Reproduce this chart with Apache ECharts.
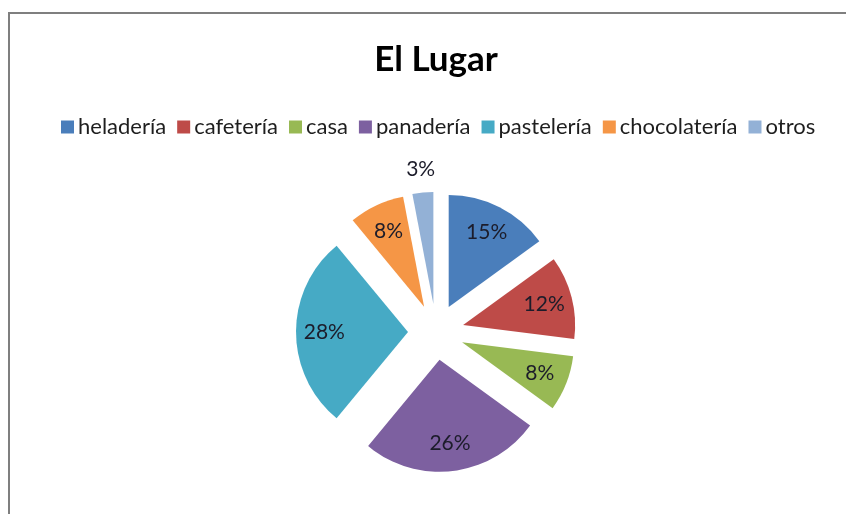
<!DOCTYPE html>
<html>
<head>
<meta charset="utf-8">
<script src="https://cdn.jsdelivr.net/npm/echarts@6/dist/echarts.min.js"></script>
<style>
  html, body { margin: 0; padding: 0; background: #fff; }
  #chart { width: 846px; height: 514px; }
</style>
</head>
<body>
<div id="chart"></div>
<script>
// Where people prefer to go: share of answers per place
const categories = ['heladería', 'cafetería', 'casa', 'panadería', 'pastelería', 'chocolatería', 'otros'];
const shares = [15, 12, 8, 26, 28, 8, 3];
const sliceColors = ['#4A7EBB', '#BE4B48', '#98B954', '#7D60A0', '#46AAC5', '#F59646', '#93B1D6'];
// slices whose label sits outside the pie
const outsideLabels = ['otros'];

const chart = echarts.init(document.getElementById('chart'), null, { renderer: 'canvas' });

const center = [436, 332];
const radius = 112;
const explode = 28;
const font = 'Lato, "Open Sans", sans-serif';

function items(labelFor) {
  return categories.map((name, i) => ({
    name,
    value: shares[i],
    selected: true,
    itemStyle: { color: sliceColors[i] },
    label: labelFor(name)
  }));
}

const baseSeries = {
  type: 'pie',
  center,
  startAngle: 90,
  clockwise: true,
  selectedMode: 'multiple',
  selectedOffset: explode,
  avoidLabelOverlap: false,
  animation: false,
  silent: true,
  labelLine: { show: false },
  emphasis: { disabled: true }
};

const labelStyle = {
  position: 'inside',
  formatter: '{c}%',
  color: '#1c1c2a',
  fontFamily: font,
  fontSize: 21
};

chart.setOption({
  backgroundColor: '#ffffff',
  animation: false,
  title: {
    text: 'El Lugar',
    left: 431,
    top: 37,
    textAlign: 'center',
    textStyle: { fontFamily: font, fontWeight: 'bold', fontSize: 35, color: '#000' }
  },
  legend: {
    data: categories,
    left: 56,
    top: 111,
    itemWidth: 13,
    itemHeight: 13,
    itemGap: 11,
    icon: 'rect',
    selectedMode: false,
    textStyle: { fontFamily: font, fontSize: 22, color: '#1e1e1e', padding: [0, 0, 0, -1] }
  },
  graphic: [{
    type: 'rect',
    silent: true,
    shape: { x: 9, y: 13, width: 900, height: 600 },
    style: { fill: 'none', stroke: '#7f7f7f', lineWidth: 2 }
  }],
  series: [
    // coloured slices
    Object.assign({}, baseSeries, {
      name: 'El Lugar',
      radius: [0, radius],
      label: { show: false },
      data: items(() => ({ show: false }))
    }),
    // transparent ring carrying the in-slice percentages
    Object.assign({}, baseSeries, {
      name: 'etiquetas',
      radius: [radius * 0.44, radius],
      label: labelStyle,
      data: items(name => ({ show: !outsideLabels.includes(name) })).map(d => Object.assign(d, { itemStyle: { color: 'rgba(0,0,0,0)' } }))
    }),
    // transparent ring beyond the rim for small slices
    Object.assign({}, baseSeries, {
      name: 'etiquetas exteriores',
      radius: [radius * 1.1, radius * 1.26],
      label: labelStyle,
      data: items(name => ({ show: outsideLabels.includes(name) })).map(d => Object.assign(d, { itemStyle: { color: 'rgba(0,0,0,0)' } }))
    })
  ]
});
</script>
</body>
</html>
